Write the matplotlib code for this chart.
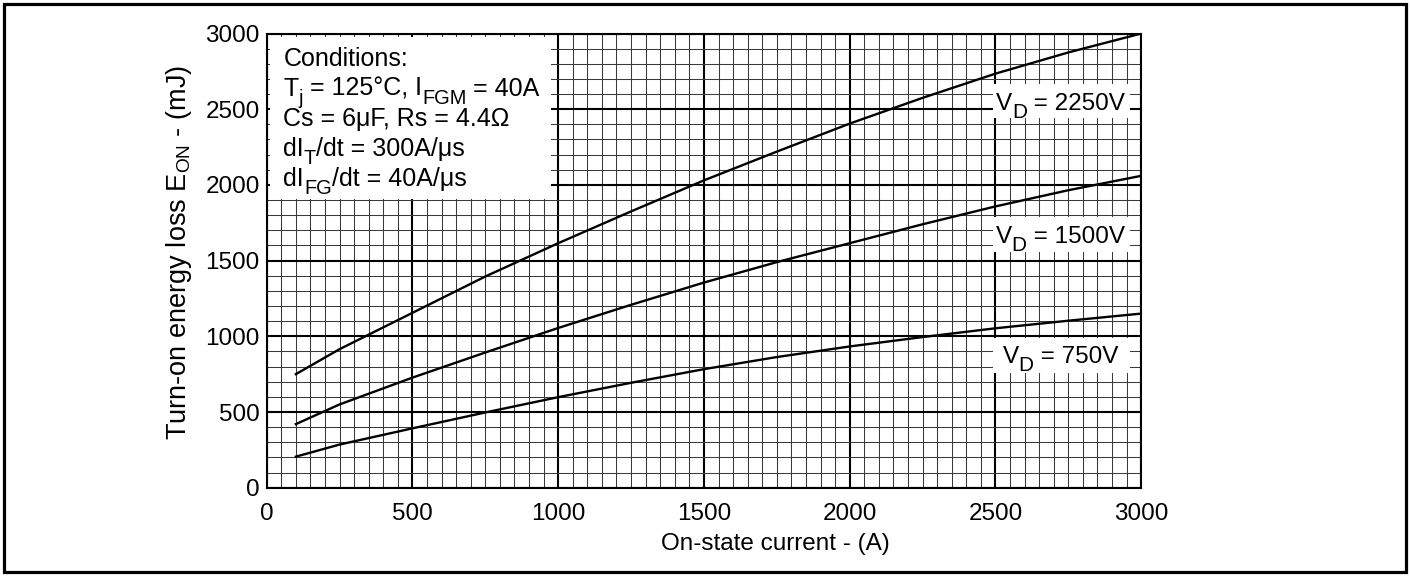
import numpy as np
import matplotlib
matplotlib.use("Agg")
import matplotlib.pyplot as plt
from matplotlib.patches import Rectangle
from matplotlib.ticker import MultipleLocator
from matplotlib.transforms import offset_copy
from matplotlib.font_manager import FontProperties

plt.rcParams['font.family'] = ['Liberation Sans', 'DejaVu Sans']
plt.rcParams['mathtext.fontset'] = 'custom'
plt.rcParams['mathtext.rm'] = 'Liberation Sans'
plt.rcParams['mathtext.it'] = 'Liberation Sans'
plt.rcParams['mathtext.bf'] = 'Liberation Sans:bold'

FS = 17.5

# On-state current (A)
current = [100, 250, 500, 750, 1000, 1250, 1500, 1750, 2000, 2250, 2500, 2750, 3000]
# Turn-on energy loss (mJ) for each VD
eon_2250 = [750, 915, 1155, 1395, 1615, 1825, 2030, 2220, 2405, 2575, 2735, 2875, 3000]
eon_1500 = [420, 550, 727, 893, 1055, 1208, 1355, 1490, 1615, 1740, 1858, 1965, 2060]
eon_750 = [205, 285, 392, 497, 598, 693, 783, 863, 933, 995, 1053, 1103, 1150]

# labels as (text, is_subscript) pieces
curve_labels = [[("V", False), ("D", True), (" = 2250V", False)],
                [("V", False), ("D", True), (" = 1500V", False)],
                [("V", False), ("D", True), (" = 750V", False)]]
label_base = [2497, 1618, 821]
label_box_y = [(2440, 2665), (1555, 1785), (760, 990)]

conditions = [[("Conditions:", False)],
              [("T", False), ("j", True), (" = 125\u00b0C, I", False), ("FGM", True), (" = 40A", False)],
              [("Cs = 6\u03bcF, Rs = 4.4\u03a9", False)],
              [("dI", False), ("T", True), ("/dt = 300A/\u03bcs", False)],
              [("dI", False), ("FG", True), ("/dt = 40A/\u03bcs", False)]]
cond_base = [2786, 2588, 2390, 2192, 1993]

fig = plt.figure(figsize=(14.11, 5.76), dpi=100)
ax = fig.add_axes([0.189, 0.1533, 0.6198, 0.7885])
renderer = fig.canvas.get_renderer()


def text_width(s, size):
    fp = FontProperties(family=['Liberation Sans'], size=size)
    w1 = renderer.get_text_width_height_descent("|" + s + "|", fp, ismath=False)[0]
    w0 = renderer.get_text_width_height_descent("||", fp, ismath=False)[0]
    return w1 - w0


def rich_text(x, y, parts, size, sub_scale, drop, ha='left'):
    widths = []
    for s, sub in parts:
        widths.append(text_width(s, size * sub_scale if sub else size))
    x0 = -sum(widths) / 2 if ha == 'center' else 0
    for (s, sub), w in zip(parts, widths):
        fs = size * sub_scale if sub else size
        dy = -drop * size * fig.dpi / 72 if sub else 0
        tr = offset_copy(ax.transData, fig=fig, x=x0, y=dy, units='dots')
        ax.text(x, y, s, fontsize=fs, va='baseline', ha='left',
                transform=tr, zorder=4)
        x0 += w


ax.set_xlim(0, 3000)
ax.set_ylim(0, 3000)
ax.xaxis.set_major_locator(MultipleLocator(500))
ax.yaxis.set_major_locator(MultipleLocator(500))
ax.xaxis.set_minor_locator(MultipleLocator(50))
ax.yaxis.set_minor_locator(MultipleLocator(100))
ax.grid(which='major', color='black', lw=1.5, zorder=1)
ax.grid(which='minor', color='#3a3a3a', lw=0.75, zorder=1)
ax.set_axisbelow(True)
ax.tick_params(which='both', length=0, labelsize=FS)
ax.tick_params(axis='x', pad=11)
ax.tick_params(axis='y', pad=5)
for s in ax.spines.values():
    s.set_linewidth(1.5)

for y in [eon_2250, eon_1500, eon_750]:
    ax.plot(current, y, color='black', lw=1.7, zorder=3)

# white boxes behind the curve labels
for (y0, y1), parts, yb in zip(label_box_y, curve_labels, label_base):
    ax.add_patch(Rectangle((2490, y0), 470, y1 - y0, facecolor='white',
                           edgecolor='none', zorder=2))
    rich_text(2722, yb, parts, FS, 0.85, 0.33, ha='center')

ax.add_patch(Rectangle((12, 1905), 963, 1075, facecolor='white',
                       edgecolor='none', zorder=2))
for parts, yb in zip(conditions, cond_base):
    rich_text(57, yb, parts, 18, 0.8, 0.33)

ax.set_xlabel("On-state current - (A)", fontsize=FS)
ax.xaxis.set_label_coords(0.582, -0.10)
ax.set_ylabel("Turn-on energy loss E$_\\mathrm{ON}$ - (mJ)", fontsize=19.5)
ax.yaxis.set_label_coords(-0.083, 0.517)

fig.patches.append(Rectangle((4 / 1411, 4 / 576), 1402 / 1411, 568 / 576,
                             transform=fig.transFigure, fill=False,
                             edgecolor='black', lw=2.3))

fig.savefig("out.png", dpi=100)
